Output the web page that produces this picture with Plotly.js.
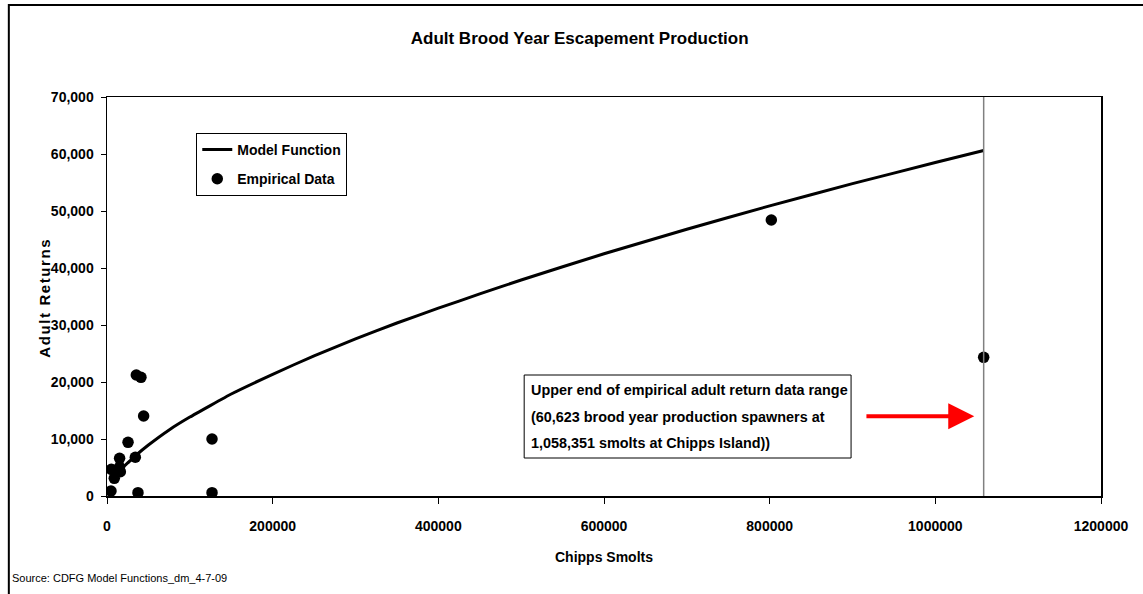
<!DOCTYPE html>
<html>
<head>
<meta charset="utf-8">
<script src="https://cdn.plot.ly/plotly-3.0.1.min.js"></script>
<style>
html,body{margin:0;padding:0;background:#fff;}
#chart{width:1143px;height:594px;}
</style>
</head>
<body>
<div id="chart"></div>
<script>
// Model function
const modelX = [8000, 15000, 25000, 35000, 50000, 75000, 100000, 150000, 200000, 250000, 300000, 350000, 400000, 450000, 500000, 600000, 700000, 800000, 900000, 1000000, 1058351];
const modelY = [2900, 4500, 5800, 7150, 8950, 11600, 13850, 17900, 21350, 24600, 27550, 30350, 32950, 35450, 37900, 42500, 46800, 50900, 54800, 58500, 60623];

// Empirical data
const empX = [35400, 41000, 44200, 25400, 34200, 15200, 15200, 16100, 5200, 8800, 4800, 37400, 126800, 126800, 802000, 1058351];
const empY = [21230, 20820, 14040, 9420, 6790, 6610, 5090, 4260, 4680, 3100, 880, 580, 10000, 580, 48420, 24330];

// Reference line / annotation values
const upperX = 1058351;
const arrowFromX = 915000, arrowToX = 1047000, arrowY = 14000;

const title = 'Adult Brood Year Escapement Production';
const xTitle = 'Chipps Smolts';
const yTitle = 'Adult Returns';
const noteLines = [
  'Upper end of empirical adult return data range',
  '(60,623 brood year production spawners at',
  '1,058,351 smolts at Chipps Island))'
];
const sourceText = 'Source: CDFG Model Functions_dm_4-7-09';

const FONT = 'Liberation Sans, Arial, sans-serif';

const traces = [
  {x: modelX, y: modelY, type: 'scatter', mode: 'lines', name: 'Model Function',
   legendgroup: 'a', line: {color: '#000', width: 3, shape: 'spline', smoothing: 0.3}},
  {x: empX, y: empY, type: 'scatter', mode: 'markers', name: 'Empirical Data',
   legendgroup: 'b', marker: {color: '#000', size: 11.5, symbol: 'circle'}}
];

const W = 1143, H = 594;
const mL = 106.7, mR = 42, mT = 97, mB = 98;
const pw = W - mL - mR, ph = H - mT - mB;
const px = v => (v - mL) / pw;
const py = v => (H - mB - v) / ph;

const annotations = [];
noteLines.forEach((t, i) => {
  annotations.push({xref: 'paper', yref: 'paper', x: px(529), y: py(390 + i * 26.5),
    xanchor: 'left', yanchor: 'middle', showarrow: false, text: t,
    font: {family: FONT, size: 14.4, color: '#000', weight: 'bold'}});
});
annotations.push({xref: 'x', yref: 'y', axref: 'x', ayref: 'y', x: arrowToX, y: arrowY,
  ax: arrowFromX, ay: arrowY, showarrow: true, arrowhead: 2, arrowsize: 1.3, arrowwidth: 4,
  arrowcolor: '#ff0000', text: ''});
annotations.push({xref: 'paper', yref: 'paper', x: px(10), y: py(578), xanchor: 'left', yanchor: 'middle',
  showarrow: false, text: sourceText, font: {family: FONT, size: 11, color: '#000'}});
annotations.push({xref: 'paper', yref: 'paper', x: px(44), y: py(298), xanchor: 'center', yanchor: 'middle',
  showarrow: false, text: yTitle, textangle: -90,
  font: {family: FONT, size: 15, color: '#000', weight: 'bold'}});

const shapes = [
  {type: 'line', xref: 'x', yref: 'paper', x0: upperX, x1: upperX, y0: 0, y1: 1,
   line: {color: '#808080', width: 1.5}},
  {type: 'rect', xref: 'paper', yref: 'paper', x0: px(524), x1: px(851), y0: py(375), y1: py(458),
   line: {color: '#000', width: 1}, fillcolor: 'rgba(0,0,0,0)'},
  {type: 'rect', xref: 'paper', yref: 'paper', x0: px(8.5), x1: px(1160), y0: py(5), y1: py(610),
   line: {color: '#000', width: 2}, fillcolor: 'rgba(0,0,0,0)'}
];

const layout = {
  width: W, height: H,
  margin: {l: mL, r: mR, t: mT, b: mB},
  paper_bgcolor: '#fff', plot_bgcolor: '#fff',
  font: {family: FONT, color: '#000'},
  title: {text: title, x: px(579.5), xref: 'paper', xanchor: 'center', y: (H - 38) / H, yanchor: 'middle',
    font: {family: FONT, size: 17, color: '#000', weight: 'bold'}},
  xaxis: {range: [0, 1200000], tickvals: [0, 200000, 400000, 600000, 800000, 1000000, 1200000],
    ticktext: ['0', '200000', '400000', '600000', '800000', '1000000', '1200000'],
    showgrid: false, zeroline: false, showline: true, linecolor: '#000', linewidth: 1.5, mirror: true,
    ticks: 'outside', ticklen: 6, tickcolor: '#000', ticklabelstandoff: 11,
    tickfont: {family: FONT, size: 14, color: '#000', weight: 'bold'},
    title: {text: xTitle, standoff: 19, font: {family: FONT, size: 14, color: '#000', weight: 'bold'}}},
  yaxis: {range: [0, 70000], tickvals: [0, 10000, 20000, 30000, 40000, 50000, 60000, 70000],
    ticktext: ['0', '10,000', '20,000', '30,000', '40,000', '50,000', '60,000', '70,000'],
    showgrid: false, zeroline: false, showline: true, linecolor: '#000', linewidth: 1.5, mirror: true,
    ticks: 'outside', ticklen: 5, tickcolor: '#000', ticklabelstandoff: 4,
    tickfont: {family: FONT, size: 14, color: '#000', weight: 'bold'}},
  showlegend: true,
  legend: {x: px(196), y: py(133), xanchor: 'left', yanchor: 'top', bgcolor: '#fff',
    bordercolor: '#000', borderwidth: 1, traceorder: 'grouped', tracegroupgap: 8,
    font: {family: FONT, size: 14, color: '#000', weight: 'bold'}, itemwidth: 30},
  annotations: annotations,
  shapes: shapes
};

Plotly.newPlot('chart', traces, layout, {displayModeBar: false, staticPlot: true}).then(() => {
  document.querySelectorAll('.annotation-text').forEach(el => {
    if (el.textContent === yTitle) el.style.letterSpacing = '1.6px';
  });
});
</script>
</body>
</html>
